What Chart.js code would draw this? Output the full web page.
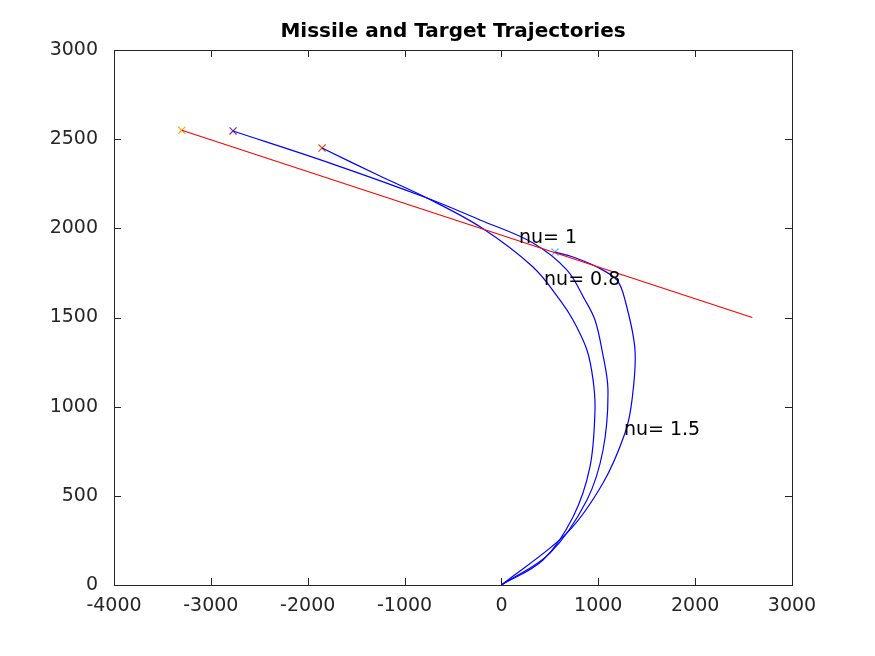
<!DOCTYPE html>
<html>
<head>
<script src="https://cdn.jsdelivr.net/npm/chart.js@4"></script>
<style>body{margin:0;background:#fff}</style>
</head>
<body>
<canvas id="c" width="875" height="656"></canvas>
<script>
// missile paths
const missileA = [[0,0],[429,140],[739,381],[914,662],[966,981],[946,1150],[883,1318],[739,1486],[605,1598],[326,1783],[-201,2002],[-768,2170],[-1254,2293],[-1852,2450]];
const missileB = [[0,0],[501,179],[883,477],[1049,757],[1100,1093],[1038,1318],[966,1486],[863,1598],[677,1766],[326,1918],[-221,2047],[-768,2170],[-1770,2366],[-2771,2546]];
const missileC = [[0,0],[677,292],[1049,572],[1276,852],[1348,1037],[1379,1318],[1276,1598],[1193,1710],[987,1783],[739,1839],[553,1867]];
const target = [[-3300,2550],[2590,1500]];
const markers = [[-3300,2550,'#EDB120'],[-2771,2546,'#7E2F8E'],[-1852,2450,'#D95319'],[553,1867,'#4DBEEE']];
const labels = [['nu= 1',181,1946],['nu= 0.8',440,1710],['nu= 1.5',1265,869]];

const pts = a => a.map(p => ({x:p[0], y:p[1]}));
const line = (d, c) => ({data: pts(d), borderColor: c, borderWidth: 1.2, pointRadius: 0, showLine: true, tension: 0.35, fill: false});

const ds = [line(target,'#ff0000'), line(missileA,'#0000ff'), line(missileB,'#0000ff'), line(missileC,'#0000ff')];
ds[0].tension = 0;
markers.forEach(m => ds.push({data:[{x:m[0],y:m[1]}], pointStyle:'crossRot', pointRadius:5,
  borderColor:m[2], pointBorderColor:m[2], pointBorderWidth:1.2, showLine:false}));

const decor = {
  id: 'decor',
  afterDraw(chart) {
    const {ctx, chartArea: a, scales: {x, y}} = chart;
    ctx.save();
    ctx.strokeStyle = '#262626'; ctx.lineWidth = 1;
    ctx.strokeRect(a.left + 0.5, a.top + 0.5, a.right - a.left, a.bottom - a.top);
    ctx.beginPath();
    for (let v = -4000; v <= 3000; v += 1000) {
      const px = Math.round(x.getPixelForValue(v)) + 0.5;
      ctx.moveTo(px, a.bottom); ctx.lineTo(px, a.bottom - 7);
      ctx.moveTo(px, a.top); ctx.lineTo(px, a.top + 7);
    }
    for (let v = 0; v <= 3000; v += 500) {
      const py = Math.round(y.getPixelForValue(v)) + 0.5;
      ctx.moveTo(a.left, py); ctx.lineTo(a.left + 7, py);
      ctx.moveTo(a.right, py); ctx.lineTo(a.right - 7, py);
    }
    ctx.stroke();
    ctx.fillStyle = '#000';
    ctx.font = '19px "DejaVu Sans"';
    ctx.textBaseline = 'middle'; ctx.textAlign = 'left';
    labels.forEach(l => ctx.fillText(l[0], x.getPixelForValue(l[1]), y.getPixelForValue(l[2])));
    ctx.font = 'bold 20px "DejaVu Sans"';
    ctx.textAlign = 'center';
    ctx.fillText('Missile and Target Trajectories', (a.left + a.right) / 2, 32);
    ctx.restore();
  }
};

new Chart(document.getElementById('c'), {
  type: 'scatter',
  data: {datasets: ds},
  options: {
    responsive: false,
    animation: false,
    layout: {padding: {top: 50, right: 83, left: 0, bottom: 0}},
    plugins: {legend: {display: false}, tooltip: {enabled: false}},
    scales: {
      x: {
        min: -4000, max: 3000,
        ticks: {stepSize: 1000, color: '#262626', font: {size: 19, family: 'DejaVu Sans'}, maxRotation: 0, padding: 2,
          callback: v => String(v)},
        grid: {display: false}, border: {display: false},
        afterFit(s) { s.height = 71; }
      },
      y: {
        min: 0, max: 3000,
        ticks: {stepSize: 500, color: '#262626', font: {size: 19, family: 'DejaVu Sans'}, padding: 8,
          callback: v => String(v)},
        grid: {display: false}, border: {display: false},
        afterFit(s) { s.width = 114; }
      }
    }
  },
  plugins: [decor]
});
</script>
</body>
</html>
